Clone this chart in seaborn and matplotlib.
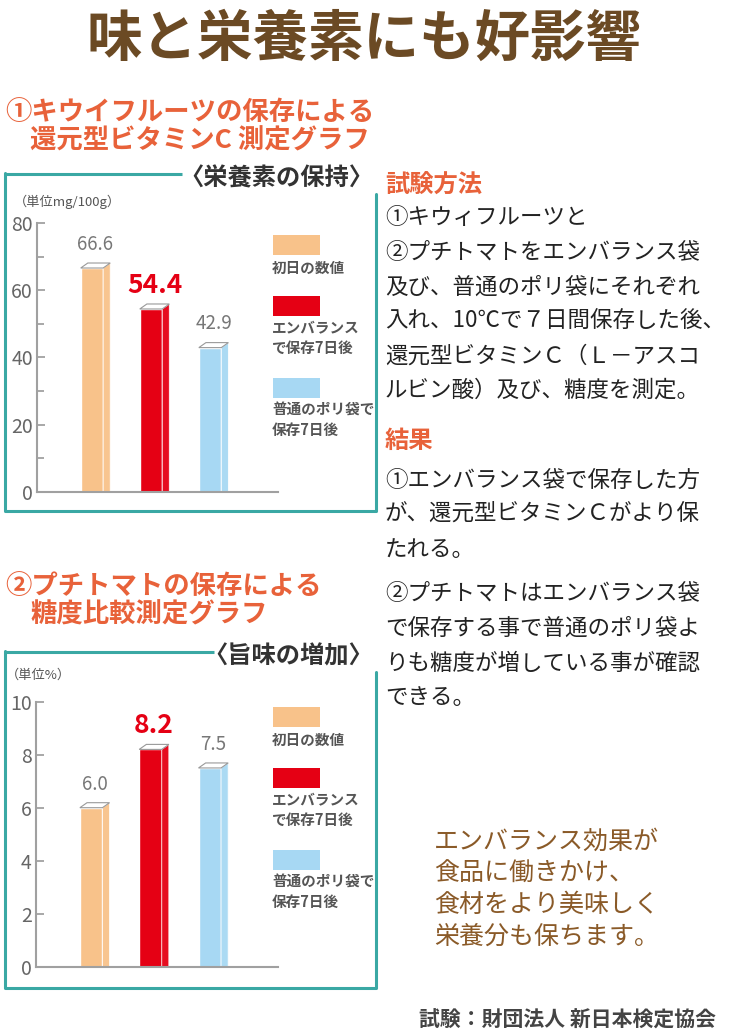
import numpy as np
import pandas as pd
import matplotlib
matplotlib.use('Agg')
import matplotlib.pyplot as plt
import seaborn as sns
from matplotlib.patches import Polygon, Rectangle

sns.set_theme(style='white')
plt.rcParams['font.family'] = ['Noto Sans CJK JP', 'DejaVu Sans']

# データ
categories = ['初日の数値', 'エンバランスで保存7日後', '普通のポリ袋で保存7日後']
legend_labels = ['初日の数値', 'エンバランス\nで保存7日後', '普通のポリ袋で\n保存7日後']
vitc_values = [66.6, 54.4, 42.9]
sugar_values = [6.0, 8.2, 7.5]
vitc_ticks = [0, 20, 40, 60, 80]
vitc_minor = [10, 30, 50, 70]
sugar_ticks = [0, 2, 4, 6, 8, 10]

bar_colors = ['#f8c28a', '#e50014', '#a7d8f3']
teal = '#3aa8a4'
orange_txt = '#e8623a'
brown = '#6b4a24'

method_lines = ['①キウィフルーツと', '②プチトマトをエンバランス袋', '及び、普通のポリ袋にそれぞれ',
                '入れ、10℃で７日間保存した後、', '還元型ビタミンＣ（Ｌ－アスコ', 'ルビン酸）及び、糖度を測定。']
result1_lines = ['①エンバランス袋で保存した方', 'が、還元型ビタミンＣがより保', 'たれる。']
result2_lines = ['②プチトマトはエンバランス袋', 'で保存する事で普通のポリ袋よ', 'りも糖度が増している事が確認', 'できる。']
memo_lines = ['エンバランス効果が', '食品に働きかけ、', '食材をより美味しく', '栄養分も保ちます。']

fig = plt.figure(figsize=(7.29, 10.33), dpi=100)
bg = fig.add_axes([0, 0, 1, 1], zorder=0)
bg.set_xlim(0, 729)
bg.set_ylim(1033, 0)
bg.axis('off')

# タイトル
bg.text(364, 40, '味と栄養素にも好影響', ha='center', va='center', fontsize=40, fontweight='bold', color=brown)


def draw_box(top, bottom, gap_x, label):
    bg.plot([5, gap_x], [top, top], color=teal, lw=2.2, solid_capstyle='butt')
    bg.plot([5, 5, 376, 376], [top - 1, bottom, bottom, top + 20], color=teal, lw=2.2)
    bg.text(373, top + 4, label, ha='right', va='center', fontsize=17.5, fontweight='bold', color='#333333')


def draw_legend(y_off):
    patch_y = [235, 296, 378]
    label_y = [268, 338, 420]
    for i in range(3):
        bg.add_patch(Rectangle((273, patch_y[i] + y_off), 47, 20, color=bar_colors[i], lw=0))
        bg.text(272, label_y[i] + y_off, legend_labels[i], ha='left', va='center', fontsize=10.5,
                fontweight='bold', color='#555555', linespacing=1.3)


def draw_chart(rect, values, ticks, minor, ax_h_px):
    ax = fig.add_axes(rect, zorder=1)
    ax.patch.set_alpha(0)
    df = pd.DataFrame({'cat': categories, 'val': values})
    sns.barplot(data=df, x='cat', y='val', hue='cat', palette=bar_colors, width=0.38,
                saturation=1, legend=False, ax=ax)
    ax.set_xlim(-0.93, 3.15)
    ax.set_ylim(0, ticks[-1])
    dx = 0.12
    dy = ticks[-1] * 5 / ax_h_px
    for i, p in enumerate(ax.patches):
        x0, w, h = p.get_x(), p.get_width(), p.get_height()
        side = Polygon([(x0 + w, 0), (x0 + w, h), (x0 + w + dx, h + dy), (x0 + w + dx, 0)],
                       closed=True, facecolor=bar_colors[i], edgecolor='#ffffff', lw=0.6, alpha=0.95)
        top = Polygon([(x0, h), (x0 + w, h), (x0 + w + dx, h + dy), (x0 + dx, h + dy)],
                      closed=True, facecolor='white', edgecolor='#999999', lw=0.8)
        ax.add_patch(side)
        ax.add_patch(top)
        if i == 1:
            ax.annotate(f'{values[i]:.1f}', (x0 + (w + dx) / 2, h), xytext=(0, 17), textcoords='offset points',
                        ha='center', va='center', fontsize=19, fontweight='bold', color=bar_colors[1])
        else:
            ax.annotate(f'{values[i]:.1f}', (x0 + (w + dx) / 2, h), xytext=(0, 17), textcoords='offset points',
                        ha='center', va='center', fontsize=13.5, color='#777777')
    ax.set_yticks(ticks)
    ax.set_yticks(minor, minor=True)
    ax.set_xticks([])
    ax.set_xlabel('')
    ax.set_ylabel('')
    ax.tick_params(axis='y', which='both', direction='in', length=6, width=1.2, color='#999999',
                   labelsize=14, labelcolor='#666666', pad=3, left=True)
    ax.tick_params(axis='y', which='minor', length=5)
    for s in ['top', 'right']:
        ax.spines[s].set_visible(False)
    for s in ['left', 'bottom']:
        ax.spines[s].set_color('#a0a0a0')
        ax.spines[s].set_linewidth(1.5)
    return ax


# グラフ①
bg.text(5, 113, '①キウイフルーツの保存による', ha='left', va='center', fontsize=19, fontweight='bold', color=orange_txt)
bg.text(30, 141, '還元型ビタミンC 測定グラフ', ha='left', va='center', fontsize=19, fontweight='bold', color=orange_txt)
draw_box(174, 511, 182, '〈栄養素の保持〉')
bg.text(14, 202, '（単位mg/100g）', ha='left', va='center', fontsize=9.5, color='#555555')
draw_legend(0)
draw_chart([37 / 729, (1033 - 491.7) / 1033, 241 / 729, 268.7 / 1033], vitc_values, vitc_ticks, vitc_minor, 268.7)

# グラフ②
bg.text(5, 587, '②プチトマトの保存による', ha='left', va='center', fontsize=19, fontweight='bold', color=orange_txt)
bg.text(30, 615, '糖度比較測定グラフ', ha='left', va='center', fontsize=19, fontweight='bold', color=orange_txt)
draw_box(652, 988, 214, '〈旨味の増加〉')
bg.text(6, 675, '（単位%）', ha='left', va='center', fontsize=9.5, color='#555555')
draw_legend(472)
draw_chart([36 / 729, (1033 - 966.7) / 1033, 242 / 729, 265 / 1033], sugar_values, sugar_ticks, [], 265)

# 右側の説明文
body_size = 16.2
bg.text(385, 186, '試験方法', ha='left', va='center', fontsize=17.5, fontweight='bold', color=orange_txt)
for i, line in enumerate(method_lines):
    bg.text(385, 218 + i * 34.5, line, ha='left', va='center', fontsize=body_size, color='#222222')
bg.text(385, 441, '結果', ha='left', va='center', fontsize=17.5, fontweight='bold', color=orange_txt)
for i, line in enumerate(result1_lines):
    bg.text(385, 480 + i * 34.5, line, ha='left', va='center', fontsize=body_size, color='#222222')
for i, line in enumerate(result2_lines):
    bg.text(385, 594 + i * 34.5, line, ha='left', va='center', fontsize=body_size, color='#222222')
for i, line in enumerate(memo_lines):
    bg.text(434, 842 + i * 31.5, line, ha='left', va='center', fontsize=18, color='#8a5a28')
bg.text(716, 1020, '試験：財団法人 新日本検定協会', ha='right', va='center', fontsize=15, fontweight='bold', color='#444444')

fig.savefig('out.png', dpi=100)
